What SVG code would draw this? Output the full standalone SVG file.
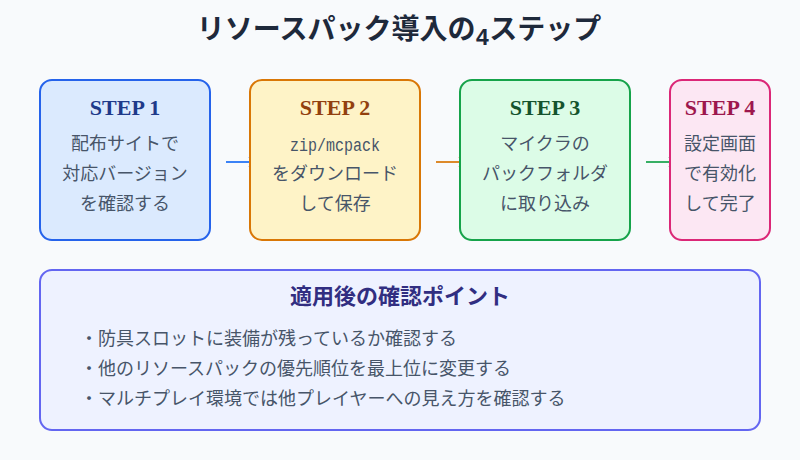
<svg xmlns="http://www.w3.org/2000/svg" width="800" height="460" viewBox="0 0 800 460">
<style>
text{font-family:"Liberation Serif","Noto Sans CJK JP",sans-serif;text-anchor:middle}
.t{font-size:28px;font-weight:700;fill:#1e293b}
.h{font-size:22px;font-weight:700}
.b{font-size:18px;fill:#475569}
.m{font-family:"Liberation Mono",monospace;font-size:18px;fill:#475569}
.l{font-size:18px;fill:#475569;text-anchor:start}
.box{stroke-width:2}
.chev{fill:none;stroke-width:2}
</style>
<defs>
<marker id="a1" markerWidth="12" markerHeight="12" refX="10" refY="6" orient="auto" markerUnits="userSpaceOnUse"><path class="chev" d="M2 1L10 6L2 11" stroke="#3b82f6"/></marker>
<marker id="a2" markerWidth="12" markerHeight="12" refX="10" refY="6" orient="auto" markerUnits="userSpaceOnUse"><path class="chev" d="M2 1L10 6L2 11" stroke="#d97706"/></marker>
<marker id="a3" markerWidth="12" markerHeight="12" refX="10" refY="6" orient="auto" markerUnits="userSpaceOnUse"><path class="chev" d="M2 1L10 6L2 11" stroke="#16a34a"/></marker>
</defs>
<rect width="800" height="460" fill="#f8fafc"/>
<text class="t" x="399" y="39">リソースパック導入の<tspan font-family="'Liberation Mono',monospace" font-size="23" dy="6">4</tspan><tspan dy="-6">ステップ</tspan></text>
<g id="connectors" stroke-width="2" fill="none">
<line x1="226" y1="162" x2="257" y2="162" stroke="#3b82f6" marker-end="url(#a1)"/>
<line x1="436" y1="162" x2="467" y2="162" stroke="#d97706" opacity=".85" marker-end="url(#a2)"/>
<line x1="646" y1="162" x2="677" y2="162" stroke="#16a34a" opacity=".85" marker-end="url(#a3)"/>
</g>
<g id="step1"><rect class="box" x="40" y="80" width="170" height="160" rx="12" fill="#dbeafe" stroke="#2563eb"/>
<text class="h" x="125" y="115" fill="#1e3a8a">STEP 1</text>
<text class="b" x="125" y="149.5">配布サイトで</text><text class="b" x="125" y="179.5">対応バージョン</text><text class="b" x="125" y="209.5">を確認する</text></g>
<g id="step2"><rect class="box" x="250" y="80" width="170" height="160" rx="12" fill="#fef3c7" stroke="#d97706"/>
<text class="h" x="335" y="115" fill="#92400e">STEP 2</text>
<text class="m" x="335" y="151" textLength="90" lengthAdjust="spacingAndGlyphs">zip/mcpack</text><text class="b" x="335" y="179.5">をダウンロード</text><text class="b" x="335" y="209.5">して保存</text></g>
<g id="step3"><rect class="box" x="460" y="80" width="170" height="160" rx="12" fill="#dcfce7" stroke="#16a34a"/>
<text class="h" x="545" y="115" fill="#14532d">STEP 3</text>
<text class="b" x="545" y="149.5">マイクラの</text><text class="b" x="545" y="179.5">パックフォルダ</text><text class="b" x="545" y="209.5">に取り込み</text></g>
<g id="step4"><rect class="box" x="670" y="80" width="100" height="160" rx="12" fill="#fce7f3" stroke="#db2777"/>
<text class="h" x="720" y="115" fill="#9d174d">STEP 4</text>
<text class="b" x="720" y="149.5">設定画面</text><text class="b" x="720" y="179.5">で有効化</text><text class="b" x="720" y="209.5">して完了</text></g>
<g id="check"><rect class="box" x="40" y="270" width="720" height="160" rx="12" fill="#eef2ff" stroke="#6366f1"/>
<text x="400" y="304" font-size="22" font-weight="700" fill="#312e81">適用後の確認ポイント</text>
<text class="l" x="80" y="345">・防具スロットに装備が残っているか確認する</text>
<text class="l" x="80" y="375">・他のリソースパックの優先順位を最上位に変更する</text>
<text class="l" x="80" y="405">・マルチプレイ環境では他プレイヤーへの見え方を確認する</text></g>
</svg>
